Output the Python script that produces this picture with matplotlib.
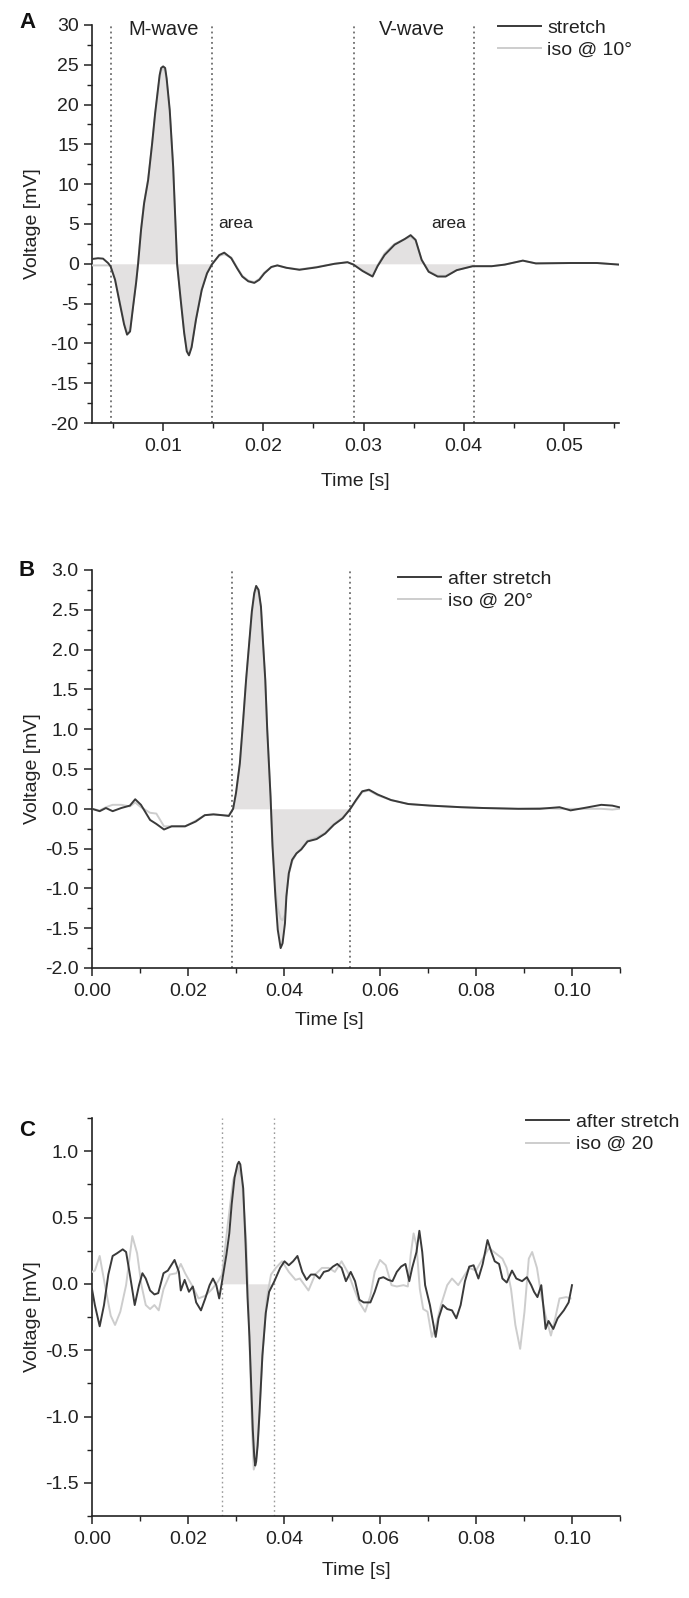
import numpy as np
import matplotlib
matplotlib.use("Agg")
import matplotlib.pyplot as plt
from matplotlib.patches import Rectangle
from matplotlib.ticker import MultipleLocator, FormatStrFormatter

plt.rcParams['font.family'] = ['Liberation Sans', 'DejaVu Sans']

# ---------------- Panel A data ----------------
a_time = [0.0029, 0.0035, 0.0040, 0.0045, 0.00475, 0.0052, 0.0056, 0.0061, 0.0064, 0.0067,
          0.0070, 0.0073, 0.0075, 0.0078, 0.0081, 0.0085, 0.0089, 0.0092, 0.00965, 0.0098,
          0.0100, 0.0102, 0.01035, 0.01066, 0.0110, 0.0112, 0.0114, 0.01175, 0.0121, 0.01236,
          0.01258, 0.01284, 0.01328, 0.01385, 0.01438, 0.01486, 0.0156, 0.0161, 0.0168, 0.0174,
          0.0179, 0.0185, 0.0191, 0.0196, 0.0201, 0.0208, 0.0214, 0.0223, 0.0236, 0.0253,
          0.0271, 0.0284, 0.0290, 0.0299, 0.0309, 0.0314, 0.0321, 0.0331, 0.0341, 0.0347,
          0.0352, 0.0358, 0.0365, 0.0374, 0.0382, 0.0393, 0.0409, 0.0428, 0.0441, 0.0459,
          0.0472, 0.0507, 0.0533, 0.0555]
a_stretch = [0.6, 0.7, 0.65, 0.1, -0.3, -2.0, -4.5, -7.6, -8.9, -8.5,
             -5.4, -2.4, 0.0, 4.3, 7.6, 10.5, 15.1, 18.9, 23.7, 24.6,
             24.8, 24.6, 23.3, 19.3, 12.2, 6.0, -0.1, -4.5, -8.7, -11.0,
             -11.5, -10.5, -7.0, -3.3, -1.2, -0.1, 1.1, 1.4, 0.7, -0.6,
             -1.6, -2.2, -2.4, -2.0, -1.2, -0.4, -0.2, -0.5, -0.75, -0.45,
             0.0, 0.2, -0.1, -0.9, -1.6, -0.3, 1.1, 2.4, 3.1, 3.6,
             3.0, 0.5, -1.0, -1.6, -1.6, -0.8, -0.3, -0.3, -0.1, 0.4,
             0.05, 0.1, 0.1, -0.1]
a_iso = [-0.2, -0.2, -0.2, -0.2, -0.3, -1.9, -4.4, -7.4, -8.7, -8.3,
         -5.3, -2.3, 0.1, 4.4, 7.7, 10.6, 15.0, 18.7, 23.4, 24.3,
         24.5, 24.3, 23.0, 19.1, 12.1, 6.0, 0.0, -4.3, -8.5, -10.8,
         -11.3, -10.3, -6.9, -3.2, -1.1, 0.0, 1.0, 1.2, 0.8, -0.5,
         -1.5, -2.1, -2.3, -1.9, -1.1, -0.4, -0.2, -0.5, -0.7, -0.4,
         0.0, 0.2, -0.1, -0.8, -1.5, -0.2, 1.3, 2.5, 3.1, 3.4,
         2.9, 0.5, -0.9, -1.5, -1.5, -0.8, -0.3, -0.3, -0.1, 0.4,
         0.05, 0.1, 0.1, -0.1]
a_windows = [(0.0048, 0.0149), (0.0291, 0.0410)]

# ---------------- Panel B data ----------------
b_time = [0.0000, 0.0016, 0.0029, 0.0043, 0.0061, 0.0079, 0.0090, 0.0102, 0.0121, 0.0134,
          0.0150, 0.0166, 0.0194, 0.0216, 0.0235, 0.0253, 0.0271, 0.0285, 0.0294, 0.0300,
          0.0308, 0.0315, 0.0321, 0.0328, 0.0333, 0.0338, 0.0342, 0.0347, 0.0352, 0.0356,
          0.0361, 0.0365, 0.0372, 0.0376, 0.0382, 0.0387, 0.0393, 0.0397, 0.0402, 0.0405,
          0.0410, 0.0417, 0.0426, 0.0436, 0.0449, 0.0468, 0.0486, 0.0504, 0.0522, 0.0537,
          0.0550, 0.0563, 0.0577, 0.0595, 0.0623, 0.0659, 0.0705, 0.0769, 0.0815, 0.0888,
          0.0933, 0.0974, 0.0997, 0.1025, 0.1061, 0.1084, 0.1098]
b_stretch = [0.00, -0.03, 0.01, -0.03, 0.01, 0.04, 0.12, 0.05, -0.14, -0.19,
             -0.26, -0.22, -0.22, -0.16, -0.08, -0.07, -0.08, -0.09, 0.00, 0.20,
             0.57, 1.12, 1.62, 2.12, 2.48, 2.71, 2.80, 2.75, 2.54, 2.12,
             1.62, 1.00, 0.15, -0.46, -1.10, -1.52, -1.75, -1.69, -1.44, -1.10,
             -0.81, -0.64, -0.56, -0.51, -0.41, -0.38, -0.31, -0.20, -0.12, -0.01,
             0.11, 0.22, 0.24, 0.18, 0.11, 0.06, 0.04, 0.02, 0.01, 0.00,
             0.00, 0.02, -0.02, 0.01, 0.05, 0.04, 0.02]
b_iso = [0.00, -0.02, 0.02, 0.05, 0.05, 0.03, 0.08, 0.02, -0.05, -0.06,
         -0.22, -0.22, -0.22, -0.15, -0.08, -0.07, -0.08, -0.08, 0.00, 0.18,
         0.55, 1.10, 1.60, 2.10, 2.45, 2.68, 2.77, 2.72, 2.52, 2.10,
         1.60, 1.00, 0.15, -0.42, -1.00, -1.25, -1.38, -1.40, -1.33, -1.08,
         -0.82, -0.66, -0.56, -0.50, -0.40, -0.36, -0.30, -0.19, -0.11, -0.01,
         0.10, 0.21, 0.23, 0.17, 0.11, 0.06, 0.04, 0.02, 0.01, 0.00,
         0.01, 0.00, 0.00, 0.00, 0.00, -0.01, 0.00]
b_windows = [(0.0291, 0.0537)]

# ---------------- Panel C data ----------------
c_time = [0.0000, 0.0006, 0.0016, 0.0025, 0.0034, 0.0043, 0.0052, 0.0064, 0.0071, 0.0078,
          0.0089, 0.0098, 0.0105, 0.0112, 0.0121, 0.0130, 0.0138, 0.0149, 0.0158, 0.0172,
          0.0181, 0.0185, 0.0193, 0.0202, 0.0210, 0.0217, 0.0227, 0.0236, 0.0245, 0.0252,
          0.0259, 0.0265, 0.0271, 0.0280, 0.0286, 0.0291, 0.0297, 0.0303, 0.0306, 0.0309,
          0.0315, 0.0320, 0.0324, 0.0328, 0.0332, 0.0335, 0.0338, 0.0340, 0.0342, 0.0345,
          0.0349, 0.0355, 0.0362, 0.0369, 0.0380, 0.0392, 0.0401, 0.0410, 0.0419, 0.0428,
          0.0438, 0.0447, 0.0456, 0.0465, 0.0474, 0.0483, 0.0493, 0.0502, 0.0511, 0.0520,
          0.0529, 0.0539, 0.0548, 0.0557, 0.0566, 0.0580, 0.0589, 0.0598, 0.0607, 0.0617,
          0.0626, 0.0635, 0.0644, 0.0653, 0.0661, 0.0667, 0.0676, 0.0682, 0.0688, 0.0694,
          0.0704, 0.0716, 0.0722, 0.0731, 0.0740, 0.0750, 0.0759, 0.0768, 0.0777, 0.0786,
          0.0795, 0.0805, 0.0814, 0.0824, 0.0832, 0.0839, 0.0848, 0.0855, 0.0864, 0.0875,
          0.0884, 0.0896, 0.0906, 0.0915, 0.0921, 0.0928, 0.0936, 0.0945, 0.0951, 0.0961,
          0.0970, 0.0983, 0.0993, 0.1000]
c_stretch = [-0.04, -0.16, -0.32, -0.16, 0.07, 0.21, 0.23, 0.26, 0.24, 0.09,
             -0.16, -0.01, 0.08, 0.04, -0.05, -0.08, -0.07, 0.08, 0.10, 0.18,
             0.09, -0.05, 0.03, -0.06, -0.02, -0.14, -0.20, -0.11, -0.01, 0.04,
             -0.01, -0.11, 0.02, 0.22, 0.38, 0.60, 0.80, 0.90, 0.92, 0.90,
             0.72, 0.30, -0.10, -0.40, -0.80, -1.10, -1.30, -1.37, -1.34, -1.22,
             -0.97, -0.54, -0.22, -0.06, 0.02, 0.12, 0.17, 0.14, 0.17, 0.21,
             0.09, 0.03, 0.07, 0.07, 0.04, 0.09, 0.10, 0.13, 0.15, 0.12,
             0.02, 0.09, 0.02, -0.12, -0.14, -0.14, -0.06, 0.04, 0.05, 0.03,
             0.02, 0.09, 0.13, 0.15, 0.02, 0.12, 0.24, 0.40, 0.24, -0.01,
             -0.16, -0.40, -0.26, -0.16, -0.19, -0.20, -0.26, -0.16, 0.02, 0.13,
             0.14, 0.04, 0.15, 0.33, 0.24, 0.17, 0.15, 0.04, 0.01, 0.10,
             0.04, 0.02, 0.05, -0.01, -0.06, -0.10, -0.01, -0.34, -0.28, -0.34,
             -0.26, -0.20, -0.14, -0.01]
c_iso_time = [0.0000, 0.0006, 0.0016, 0.0027, 0.0039, 0.0048, 0.0059, 0.0071, 0.0084, 0.0094,
              0.0103, 0.0112, 0.0121, 0.0130, 0.0139, 0.0149, 0.0162, 0.0176, 0.0185, 0.0194,
              0.0208, 0.0222, 0.0236, 0.0250, 0.0263, 0.0271, 0.0282, 0.0294, 0.0303, 0.0312,
              0.0321, 0.0326, 0.0330, 0.0334, 0.0337, 0.0341, 0.0346, 0.0355, 0.0364, 0.0373,
              0.0383, 0.0396, 0.0410, 0.0424, 0.0433, 0.0451, 0.0465, 0.0479, 0.0493, 0.0506,
              0.0520, 0.0534, 0.0543, 0.0557, 0.0569, 0.0580, 0.0589, 0.0600, 0.0612, 0.0624,
              0.0635, 0.0649, 0.0658, 0.0664, 0.0670, 0.0676, 0.0683, 0.0690, 0.0699, 0.0708,
              0.0717, 0.0727, 0.0740, 0.0750, 0.0763, 0.0777, 0.0786, 0.0800, 0.0814, 0.0827,
              0.0841, 0.0855, 0.0864, 0.0873, 0.0882, 0.0892, 0.0901, 0.0910, 0.0917, 0.0927,
              0.0936, 0.0945, 0.0956, 0.0965, 0.0974, 0.0988, 0.0997]
c_iso = [0.09, 0.10, 0.21, -0.01, -0.24, -0.31, -0.21, -0.01, 0.36, 0.23,
         -0.01, -0.16, -0.19, -0.16, -0.20, -0.04, 0.07, 0.08, 0.15, 0.08,
         -0.01, -0.11, -0.09, -0.04, 0.02, 0.07, 0.42, 0.78, 0.88, 0.80,
         0.34, -0.15, -0.67, -1.15, -1.40, -1.35, -1.18, -0.54, -0.11, 0.07,
         0.12, 0.17, 0.09, 0.03, 0.04, -0.05, 0.07, 0.12, 0.12, 0.09,
         0.17, 0.08, -0.01, -0.14, -0.21, -0.09, 0.09, 0.18, 0.14, -0.01,
         -0.02, -0.01, -0.02, 0.22, 0.38, 0.29, -0.04, -0.19, -0.21, -0.40,
         -0.31, -0.16, -0.01, 0.04, -0.01, 0.07, 0.12, 0.10, 0.19, 0.27,
         0.23, 0.19, 0.12, -0.04, -0.31, -0.49, -0.21, 0.19, 0.24, 0.12,
         -0.09, -0.24, -0.39, -0.26, -0.11, -0.10, -0.11]
c_windows = [(0.0271, 0.0380)]

DARK = '#3a3a3a'
LIGHT = '#cdcdcd'
FILL = '#e3e1e1'
INK = '#222222'
FS = 14

W, H = 689, 1598
fig = plt.figure(figsize=(W / 100, H / 100), dpi=100)


def axes_px(left, top, right, bottom):
    return fig.add_axes([left / W, 1 - bottom / H, (right - left) / W, (bottom - top) / H])


def style(ax, xlim, ylim, xmaj, xmin, ymaj, ymin, xfmt, yfmt, xlab_pos):
    ax.set_xlim(*xlim)
    ax.set_ylim(*ylim)
    for s in ['top', 'right']:
        ax.spines[s].set_visible(False)
    for s in ['left', 'bottom']:
        ax.spines[s].set_linewidth(1.2)
        ax.spines[s].set_color(INK)
    ax.xaxis.set_major_locator(MultipleLocator(xmaj))
    ax.xaxis.set_minor_locator(MultipleLocator(xmin))
    ax.yaxis.set_major_locator(MultipleLocator(ymaj))
    ax.yaxis.set_minor_locator(MultipleLocator(ymin))
    ax.xaxis.set_major_formatter(FormatStrFormatter(xfmt))
    ax.yaxis.set_major_formatter(FormatStrFormatter(yfmt))
    ax.tick_params(which='major', direction='out', length=6, width=1.1, labelsize=FS,
                   color=INK, labelcolor=INK)
    ax.tick_params(axis='x', which='major', pad=5)
    ax.tick_params(axis='y', which='major', pad=3.5)
    ax.tick_params(which='minor', direction='out', length=3.5, width=1.0, color=INK)
    ax.set_xlabel('Time [s]', fontsize=FS, color=INK)
    ax.set_ylabel('Voltage [mV]', fontsize=FS, color=INK)
    ax.xaxis.set_label_coords(*xlab_pos)
    ax.yaxis.set_label_coords(-0.096, 0.5)


def shade(ax, t, v, windows, ylim):
    for a, b in windows:
        poly = ax.fill_between(t, v, 0, color=FILL, linewidth=0, zorder=1)
        rect = Rectangle((a, ylim[0]), b - a, ylim[1] - ylim[0], transform=ax.transData)
        poly.set_clip_path(rect)


def vlines(ax, xs, color, lw):
    for x in xs:
        ax.axvline(x, color=color, linestyle=(0, (1.2, 2.2)), linewidth=lw, zorder=2)


def legend(ax, x, y):
    leg = ax.legend(loc='upper left', bbox_to_anchor=(x, y), frameon=False,
                    fontsize=FS, handlelength=2.2, handletextpad=0.35, labelspacing=0.25,
                    borderpad=0, borderaxespad=0)
    for txt in leg.get_texts():
        txt.set_color(INK)


# ---------------- Panel A ----------------
axA = axes_px(92, 25, 619, 423)
ylA = (-20, 30)
shade(axA, a_time, a_stretch, a_windows, ylA)
vlines(axA, [w for pair in a_windows for w in pair], '#555555', 1.1)
axA.plot(a_time, a_stretch, color=DARK, lw=1.4, zorder=4, label='stretch')
axA.plot(a_time, a_iso, color=LIGHT, lw=1.4, zorder=3, label='iso @ 10°')
style(axA, (0.0029, 0.0555), ylA, 0.01, 0.005, 5, 2.5, '%.2f', '%d', (0.5, -0.126))
legend(axA, 0.77, 1.015)
axA.text(0.0100, 29.4, 'M-wave', ha='center', va='center', fontsize=14.5, color=INK)
axA.text(0.0348, 29.4, 'V-wave', ha='center', va='center', fontsize=14.5, color=INK)
axA.text(0.0155, 5.1, 'area', ha='left', va='center', fontsize=12.5, color=INK)
axA.text(0.0368, 5.1, 'area', ha='left', va='center', fontsize=12.5, color=INK)

# ---------------- Panel B ----------------
axB = axes_px(92, 570, 620, 968)
ylB = (-2.0, 3.0)
shade(axB, b_time, b_stretch, b_windows, ylB)
vlines(axB, [w for pair in b_windows for w in pair], '#555555', 1.1)
axB.plot(b_time, b_stretch, color=DARK, lw=1.4, zorder=4, label='after stretch')
axB.plot(b_time, b_iso, color=LIGHT, lw=1.4, zorder=3, label='iso @ 20°')
style(axB, (0.0, 0.11), ylB, 0.02, 0.01, 0.5, 0.25, '%.2f', '%.1f', (0.45, -0.11))
legend(axB, 0.58, 1.0)

# ---------------- Panel C ----------------
axC = axes_px(92, 1118, 620, 1516)
ylC = (-1.75, 1.25)
shade(axC, c_time, c_stretch, c_windows, ylC)
vlines(axC, [w for pair in c_windows for w in pair], '#9a9a9a', 1.0)
axC.plot(c_time, c_stretch, color=DARK, lw=1.4, zorder=4, label='after stretch')
axC.plot(c_iso_time, c_iso, color=LIGHT, lw=1.4, zorder=3, label='iso @ 20')
style(axC, (0.0, 0.11), ylC, 0.02, 0.01, 0.5, 0.25, '%.2f', '%.1f', (0.5, -0.115))
legend(axC, 0.822, 1.012)

for lab, y in [('A', 22), ('B', 570), ('C', 1130)]:
    fig.text(27 / W, 1 - y / H, lab, ha='center', va='center', fontsize=16,
             fontweight='bold', color='#111111')

fig.savefig('out.png', dpi=100)
